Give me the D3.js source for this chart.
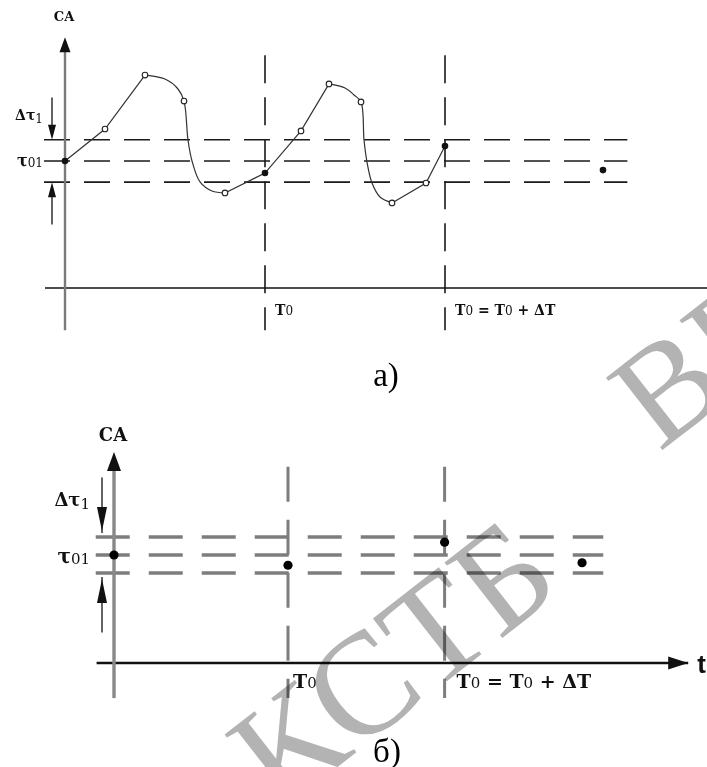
<!DOCTYPE html>
<html>
<head>
<meta charset="utf-8">
<script src="https://cdn.jsdelivr.net/npm/d3@7/dist/d3.min.js"></script>
<style>
  html, body { margin: 0; padding: 0; background: #fff; }
  svg { display: block; }
  .lbl { font-family: "DejaVu Serif", serif; font-weight: bold; fill: #111; }
  .cap { font-family: "Liberation Serif", "Times New Roman", serif; fill: #000; }
  .wm { font-family: "Liberation Serif", serif; fill: #b3b3b3; mix-blend-mode: multiply; }
</style>
</head>
<body>
<svg id="chart" width="707" height="767"></svg>
<script>
// ---- time marks (clock instants) ----
const T_ORIGIN = 0, T0 = 10, T1 = 19;

// ---- threshold band: τ01 and τ01 ± Δτ1 ----
const tau01 = 6;
const dTau = 1;
const bandLevels = [tau01 + dTau, tau01, tau01 - dTau];

// ---- samples taken at the clock instants (filled dots) ----
const sampleT = [0, 10, 19, 26.9];
const sampleV = [6.0, 5.43, 6.71, 5.57];

// ---- intermediate values of the continuous signal (open circles) ----
const openT = [2, 4, 5.95, 8, 11.8, 13.2, 14.8, 16.35, 18.05];
const openV = [7.51, 10.06, 8.83, 4.49, 7.42, 9.64, 8.79, 4.02, 4.96];

// ---- signal trace: straight runs ----
const runStraight1 = [[0, 6.0], [2, 7.51], [4, 10.06]];
const runStraight2 = [[8, 4.49], [10, 5.43], [11.8, 7.42], [13.2, 9.64]];
const runStraight3 = [[16.35, 4.02], [18.05, 4.96], [19, 6.71]];
// ---- signal trace: smooth swings ----
const swing1 = [[4, 10.06], [5, 9.87], [5.65, 9.40], [5.95, 8.83], [6.15, 6.99],
                [6.35, 6.0], [6.75, 5.01], [7.35, 4.58], [8, 4.49]];
const swing2 = [[13.2, 9.64], [14.0, 9.45], [14.45, 9.12], [14.8, 8.79], [14.95, 6.99],
                [15.1, 5.95], [15.35, 4.96], [15.75, 4.30], [16.35, 4.02]];

// ---- text ----
const axisName = "CA";
const captionA = "а)";
const captionB = "б)";

const svg = d3.select("#chart");

// Filled triangular arrowhead with its tip at (x, y) pointing along (dx, dy)
function arrowHead(g, x, y, dx, dy, len, wid, fill) {
  const n = Math.hypot(dx, dy), ux = dx / n, uy = dy / n;
  const bx = x - ux * len, by = y - uy * len;
  const px = -uy * wid / 2, py = ux * wid / 2;
  g.append("path")
    .attr("d", `M${x},${y}L${bx + px},${by + py}L${bx - px},${by - py}Z`)
    .attr("fill", fill);
}

// Label built from a main part and a subscript part
function subLabel(g, x, y, main, sub, size, subSize, anchor, subShift) {
  const t = g.append("text").attr("class", "lbl")
    .attr("x", x).attr("y", y)
    .attr("text-anchor", anchor)
    .style("font-size", size + "px");
  t.append("tspan").text(main);
  t.append("tspan").text(sub)
    .style("font-size", subSize + "px")
    .style("font-weight", "normal")
    .attr("dy", subShift);
  return t;
}

function drawPanel(cfg) {
  const g = svg.append("g");
  const x = d3.scaleLinear().domain([0, 32]).range([cfg.x0, cfg.x0 + 32 * cfg.pxT]);
  const y = d3.scaleLinear().domain([0, 12]).range([cfg.y0, cfg.y0 - 12 * cfg.pxV]);

  // band lines
  g.selectAll(".band").data(bandLevels).join("line")
    .attr("x1", x(-1.05)).attr("x2", x(28.12))
    .attr("y1", d => y(d)).attr("y2", d => y(d))
    .attr("stroke", cfg.bandColor).attr("stroke-width", cfg.bandWidth)
    .attr("stroke-dasharray", cfg.bandDash);

  // clock instant lines
  g.selectAll(".clock").data([T0, T1]).join("line")
    .attr("x1", d => x(d)).attr("x2", d => x(d))
    .attr("y1", y(cfg.vLineTop)).attr("y2", y(cfg.vLineBottom))
    .attr("stroke", cfg.vColor).attr("stroke-width", cfg.vWidth)
    .attr("stroke-dasharray", cfg.vDash);

  // time axis
  g.append("line")
    .attr("x1", x(-1)).attr("x2", x(cfg.tAxisEnd))
    .attr("y1", y(0)).attr("y2", y(0))
    .attr("stroke", "#111").attr("stroke-width", cfg.xAxisWidth);
  if (cfg.tArrow) {
    arrowHead(g, x(cfg.tAxisEnd), y(0), 1, 0, 20, 13, "#111");
    g.append("text").attr("x", x(cfg.tAxisEnd) + 9).attr("y", y(0) + 10)
      .style("font-family", "'Liberation Sans', Arial, sans-serif")
      .style("font-weight", "bold").style("font-size", "26px")
      .attr("fill", "#111").text("t");
  }

  // value axis
  g.append("line")
    .attr("x1", x(T_ORIGIN)).attr("x2", x(T_ORIGIN))
    .attr("y1", y(cfg.yAxisBottom)).attr("y2", y(cfg.yAxisTop) + 6)
    .attr("stroke", cfg.yAxisColor).attr("stroke-width", cfg.yAxisWidth);
  arrowHead(g, x(T_ORIGIN), y(cfg.yAxisTop), 0, -1, cfg.yHeadLen, cfg.yHeadWid, "#111");
  g.append("text").attr("class", "lbl")
    .attr("x", x(T_ORIGIN) - 1).attr("y", y(cfg.yAxisTop) - cfg.caGap)
    .attr("text-anchor", "middle")
    .style("font-size", cfg.caSize + "px").text(axisName);

  // Δτ1 arrows pointing at the band edges
  const ax = x(cfg.arrowT);
  g.append("line").attr("x1", ax).attr("x2", ax)
    .attr("y1", y(tau01 + dTau + cfg.arrowLen)).attr("y2", y(tau01 + dTau) - 4)
    .attr("stroke", "#111").attr("stroke-width", 1.3);
  arrowHead(g, ax, y(tau01 + dTau) - cfg.arrowGap, 0, 1, cfg.headLen, cfg.headWid, "#111");
  g.append("line").attr("x1", ax).attr("x2", ax)
    .attr("y1", y(tau01 - dTau - cfg.arrowLen)).attr("y2", y(tau01 - dTau) + 4)
    .attr("stroke", "#111").attr("stroke-width", 1.3);
  arrowHead(g, ax, y(tau01 - dTau) + cfg.arrowGap, 0, -1, cfg.headLen, cfg.headWid, "#111");

  // band labels
  subLabel(g, cfg.lblRight, y(tau01 + dTau) + cfg.dLblDy, "Δτ", "1", cfg.lblSize, cfg.subSize, "end", 3);
  subLabel(g, cfg.lblRight, y(tau01) + cfg.tLblDy, "τ", "01", cfg.lblSize + 2, cfg.subSize, "end", 1);

  // clock instant labels
  subLabel(g, x(T0) + cfg.t0Off, y(0) + cfg.tLblDown, "T", "0", cfg.tSize, cfg.tSubSize, "start", 0);
  const t1 = g.append("text").attr("class", "lbl")
    .attr("x", x(T1) + cfg.t1Off).attr("y", y(0) + cfg.tLblDown)
    .style("font-size", cfg.tSize + "px");
  t1.append("tspan").text("T");
  t1.append("tspan").text("0").style("font-size", cfg.tSubSize + "px").style("font-weight", "normal");
  t1.append("tspan").text(" = T");
  t1.append("tspan").text("0").style("font-size", cfg.tSubSize + "px").style("font-weight", "normal");
  t1.append("tspan").text(" + ΔT");

  return { g, x, y };
}

// ===== panel а: continuous signal with samples =====
const A = drawPanel({
  x0: 65, pxT: 20, y0: 288, pxV: 21.17,
  bandColor: "#1a1a1a", bandWidth: 1.6, bandDash: "26,14",
  vColor: "#1a1a1a", vWidth: 1.6, vDash: "28,14", vLineTop: 11, vLineBottom: -2,
  xAxisWidth: 1.6, tAxisEnd: 33, tArrow: false,
  yAxisColor: "#7a7a7a", yAxisWidth: 2.4, yAxisTop: 11.85, yAxisBottom: -2,
  yHeadLen: 15, yHeadWid: 11, caSize: 13, caGap: 16,
  arrowT: -0.65, arrowLen: 2, arrowGap: 0, headLen: 15, headWid: 8,
  lblRight: 43, lblSize: 14, subSize: 12, dLblDy: -20, tLblDy: 5,
  t0Off: 10, t1Off: 10, tLblDown: 27, tSize: 14, tSubSize: 12
});

const line = d3.line().x(d => A.x(d[0])).y(d => A.y(d[1]));
const smooth = d3.line().x(d => A.x(d[0])).y(d => A.y(d[1])).curve(d3.curveCatmullRom.alpha(0.5));
[runStraight1, runStraight2, runStraight3].forEach(r =>
  A.g.append("path").attr("d", line(r)).attr("fill", "none")
    .attr("stroke", "#333").attr("stroke-width", 1.2));
[swing1, swing2].forEach(r =>
  A.g.append("path").attr("d", smooth(r)).attr("fill", "none")
    .attr("stroke", "#333").attr("stroke-width", 1.2));

A.g.selectAll(".open").data(d3.zip(openT, openV)).join("circle")
  .attr("cx", d => A.x(d[0])).attr("cy", d => A.y(d[1])).attr("r", 2.8)
  .attr("fill", "#fff").attr("stroke", "#222").attr("stroke-width", 1.1);
A.g.selectAll(".sample").data(d3.zip(sampleT, sampleV)).join("circle")
  .attr("cx", d => A.x(d[0])).attr("cy", d => A.y(d[1])).attr("r", 3.3)
  .attr("fill", "#111");

// ===== panel б: samples only =====
const B = drawPanel({
  x0: 114, pxT: 17.4, y0: 663, pxV: 18,
  bandColor: "#7d7d7d", bandWidth: 3.4, bandDash: "34,19",
  vColor: "#7d7d7d", vWidth: 3, vDash: "35,18", vLineTop: 10.9, vLineBottom: -1.95,
  xAxisWidth: 2.4, tAxisEnd: 33, tArrow: true,
  yAxisColor: "#888", yAxisWidth: 3.4, yAxisTop: 11.72, yAxisBottom: -1.95,
  yHeadLen: 19, yHeadWid: 14, caSize: 18, caGap: 11,
  arrowT: -0.69, arrowLen: 3.3, arrowGap: 6, headLen: 24, headWid: 10,
  lblRight: 90, lblSize: 18, subSize: 15, dLblDy: -31, tLblDy: 8,
  t0Off: 5, t1Off: 12, tLblDown: 25, tSize: 19, tSubSize: 15
});
B.g.selectAll(".sample").data(d3.zip(sampleT, sampleV)).join("circle")
  .attr("cx", d => B.x(d[0])).attr("cy", d => B.y(d[1])).attr("r", 4.6)
  .attr("fill", "#000");

// captions
svg.append("text").attr("class", "cap").attr("x", 386).attr("y", 386)
  .attr("text-anchor", "middle").style("font-size", "33px").text(captionA);
svg.append("text").attr("class", "cap").attr("x", 387).attr("y", 762)
  .attr("text-anchor", "middle").style("font-size", "33px").text(captionB);

// library stamp across the sheet
svg.append("text").attr("class", "wm")
  .attr("transform", "translate(392,662) rotate(-38)")
  .attr("text-anchor", "middle").attr("dominant-baseline", "central")
  .style("font-size", "145px").text("КСТБ");
svg.append("text").attr("class", "wm")
  .attr("transform", "translate(630,415) rotate(-38)")
  .attr("text-anchor", "start").attr("dominant-baseline", "central")
  .style("font-size", "140px").text("ВГ");
</script>
</body>
</html>
